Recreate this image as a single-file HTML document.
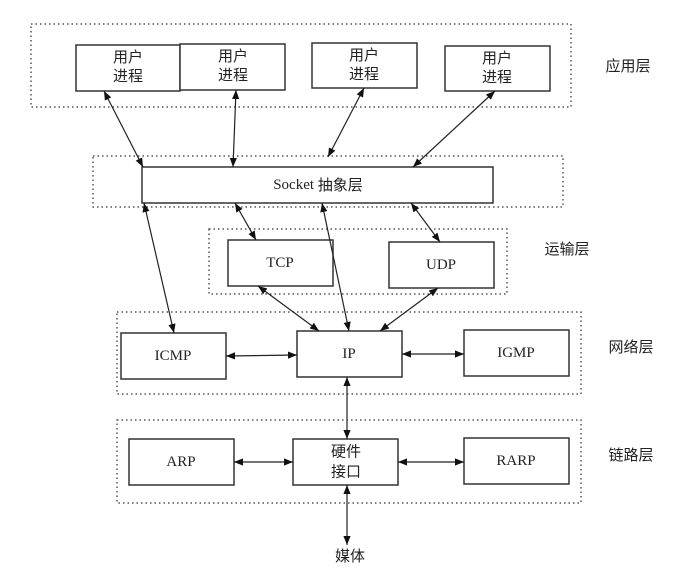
<!DOCTYPE html>
<html><head><meta charset="utf-8"><style>
html,body{margin:0;padding:0;background:#fff}
svg{display:block}
text{font-family:"Liberation Serif","Noto Sans CJK SC",serif;font-size:15px;fill:#222;text-anchor:middle;dominant-baseline:central}
.c{font-family:"Liberation Sans","Noto Sans CJK SC",sans-serif}
.b{fill:#fff;stroke:#333;stroke-width:1.5}
.d{fill:none;stroke:#555;stroke-width:1.5;stroke-dasharray:1.5 3}
.l{stroke:#222;stroke-width:1.2;marker-start:url(#a);marker-end:url(#a)}
</style></head><body>
<svg width="690" height="580" viewBox="0 0 690 580">
<defs><marker id="a" viewBox="0 0 10 10" refX="10" refY="5" markerWidth="9" markerHeight="9" orient="auto-start-reverse" markerUnits="userSpaceOnUse"><path d="M0,1 L10,5 L0,9 z" fill="#111"/></marker></defs>
<rect class="d" x="31" y="24" width="540" height="83"/>
<rect class="d" x="93" y="156" width="470" height="51"/>
<rect class="d" x="209" y="229" width="298" height="65"/>
<rect class="d" x="117" y="312" width="464" height="82"/>
<rect class="d" x="117" y="420" width="464" height="83"/>

<rect class="b" x="76" y="45" width="104" height="46"/>
<rect class="b" x="180" y="44" width="105" height="46"/>
<rect class="b" x="312" y="43" width="105" height="45"/>
<rect class="b" x="445" y="46" width="105" height="45"/>
<g class="c">
<text x="128" y="58">用户</text><text x="128" y="77">进程</text>
<text x="233" y="57">用户</text><text x="233" y="76">进程</text>
<text x="364" y="56">用户</text><text x="364" y="75">进程</text>
<text x="497" y="59">用户</text><text x="497" y="78">进程</text>
<text x="628" y="67">应用层</text>
<text x="567" y="250">运输层</text>
<text x="631" y="348">网络层</text>
<text x="631" y="456">链路层</text>
<text x="350" y="557">媒体</text>
</g>
<rect class="b" x="142" y="167" width="351" height="36"/>
<text x="318" y="185">Socket <tspan class="c">抽象层</tspan></text>
<rect class="b" x="228" y="240" width="105" height="46"/>
<text x="280" y="263">TCP</text>
<rect class="b" x="389" y="242" width="105" height="46"/>
<text x="441" y="265">UDP</text>
<rect class="b" x="121" y="333" width="105" height="46"/>
<text x="173" y="356">ICMP</text>
<rect class="b" x="297" y="331" width="105" height="46"/>
<text x="349" y="354">IP</text>
<rect class="b" x="464" y="330" width="105" height="46"/>
<text x="516" y="353">IGMP</text>
<rect class="b" x="129" y="439" width="105" height="46"/>
<text x="181" y="462">ARP</text>
<rect class="b" x="293" y="439" width="105" height="46"/>
<text x="346" y="452" class="c">硬件</text><text x="346" y="472" class="c">接口</text>
<rect class="b" x="464" y="438" width="105" height="46"/>
<text x="516" y="461">RARP</text>

<line class="l" x1="104" y1="91" x2="143" y2="167"/>
<line class="l" x1="236" y1="90" x2="233" y2="167"/>
<line class="l" x1="364" y1="88" x2="328" y2="157"/>
<line class="l" x1="495" y1="91" x2="413" y2="167"/>
<line class="l" x1="235" y1="203" x2="256" y2="240"/>
<line class="l" x1="322" y1="203" x2="349" y2="331"/>
<line class="l" x1="411" y1="203" x2="440" y2="242"/>
<line class="l" x1="144" y1="203" x2="174" y2="333"/>
<line class="l" x1="258" y1="286" x2="319" y2="331"/>
<line class="l" x1="438" y1="288" x2="380" y2="331"/>
<line class="l" x1="226" y1="356" x2="297" y2="355"/>
<line class="l" x1="402" y1="354" x2="464" y2="354"/>
<line class="l" x1="234" y1="462" x2="293" y2="462"/>
<line class="l" x1="398" y1="462" x2="464" y2="462"/>
<line class="l" x1="347" y1="377" x2="347" y2="439"/>
<line class="l" x1="347" y1="485" x2="347" y2="545"/>
</svg>
</body></html>
